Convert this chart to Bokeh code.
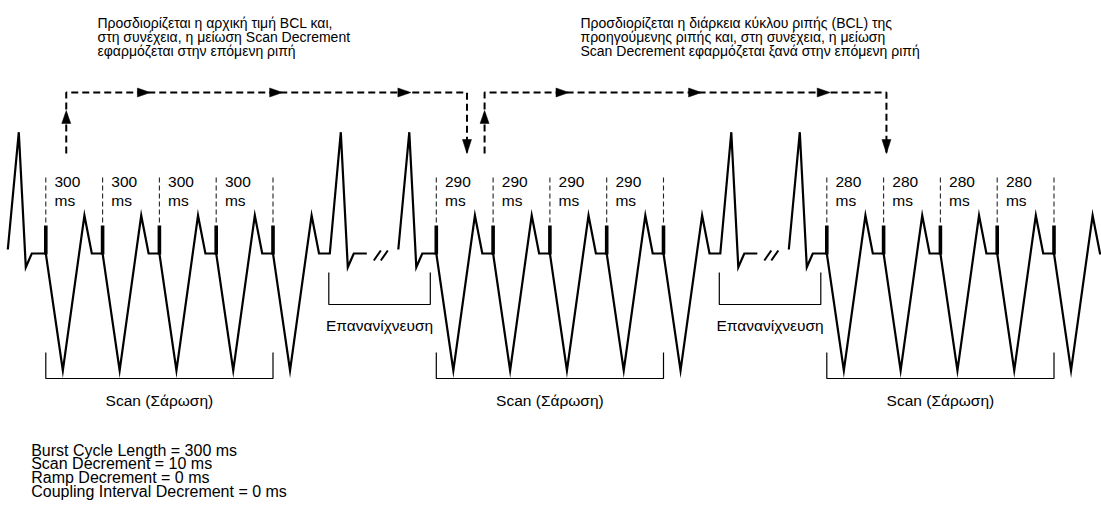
from bokeh.plotting import figure
from bokeh.models import Range1d
from bokeh.embed import file_html
from bokeh.resources import INLINE
from bokeh.core.properties import value

# ---------------- data ----------------
scan_bcl_ms = [300, 290, 280]          # burst cycle length of each scan
stimuli_per_scan = 5                    # pacing stimuli in each burst
interval_unit = "ms"
scan_label = "Scan (Σάρωση)"
retrigger_label = "Επανανίχνευση"
note_left = ["Προσδιορίζεται η αρχική τιμή BCL και,",
             "στη συνέχεια, η μείωση Scan Decrement",
             "εφαρμόζεται στην επόμενη ριπή"]
note_right = ["Προσδιορίζεται η διάρκεια κύκλου ριπής (BCL) της",
              "προηγούμενης ριπής και, στη συνέχεια, η μείωση",
              "Scan Decrement εφαρμόζεται ξανά στην επόμενη ριπή"]
param_names = ["Burst Cycle Length", "Scan Decrement", "Ramp Decrement",
               "Coupling Interval Decrement"]
param_values_ms = [300, 10, 0, 0]

# ---------------- layout (diagram units = screen px) ----------------
W, H = 1101, 512
S_FIRST = 45.3      # first stimulus of the first scan
P = 56.8            # drawn width of one cycle
GAP = 106.5         # drawn width of the redetection pause
BASE, SPIKE_TOP, V_BOT, SMALL_PK, BIG_PK, DIP = 253, 225, 370, 215, 131.7, 266.7
FONT = value("Liberation Sans")
INK = "#000000"

p = figure(width=W, height=H, x_range=Range1d(0, W), y_range=Range1d(H, 0),
           output_backend="svg", toolbar_location=None, min_border=0,
           x_axis_location=None, y_axis_location=None)
p.grid.visible = False
p.outline_line_color = None
p.background_fill_color = "white"
p.border_fill_color = "white"

n_scans = len(scan_bcl_ms)
scan_starts = [S_FIRST + i * (stimuli_per_scan * P + GAP) for i in range(n_scans)]


def sinus(r, y0=BASE):
    return [(r, y0), (r + 11, BIG_PK), (r + 18, DIP), (r + 24, BASE)]


wave_xs, wave_ys = [], []
spk_x = []
brk_x0, brk_x1 = [], []
for i, S in enumerate(scan_starts):
    pts = sinus(S - 38, 249)
    for k in range(stimuli_per_scan):
        s = S + k * P
        spk_x.append(s)
        pts += [(s, BASE), (s + 0.30 * P, V_BOT), (s + 0.68 * P, SMALL_PK), (s + 0.81 * P, BASE)]
    R = S + stimuli_per_scan * P
    pts += sinus(R) + [(R + 37, BASE)]
    wave_xs.append([q[0] for q in pts])
    wave_ys.append([q[1] for q in pts])
    if i < n_scans - 1:
        for d in (44, 51):
            brk_x0.append(R + d)
            brk_x1.append(R + d + 7)

p.multi_line(wave_xs, wave_ys, line_color=INK, line_width=2.2, line_join="miter")
# pacing spikes
p.segment(x0=spk_x, y0=[SPIKE_TOP] * len(spk_x), x1=spk_x, y1=[BASE + 1] * len(spk_x),
          line_color=INK, line_width=3.6, line_cap="butt")
# interval guide lines
p.segment(x0=spk_x, y0=[177] * len(spk_x), x1=spk_x, y1=[SPIKE_TOP] * len(spk_x),
          line_color="#222222", line_width=1.1, line_dash="5 3")
# break marks
p.segment(x0=brk_x0, y0=[260] * len(brk_x0), x1=brk_x1, y1=[250] * len(brk_x0),
          line_color=INK, line_width=2)

# interval labels
lx, ly, lt = [], [], []
for i, S in enumerate(scan_starts):
    for k in range(stimuli_per_scan - 1):
        s = S + k * P
        lx += [s + 8.7, s + 8.7]
        ly += [181.7, 200]
        lt += [str(scan_bcl_ms[i]), interval_unit]
p.text(x=lx, y=ly, text=lt, text_font=FONT, text_font_size="15.5px",
       text_baseline="alphabetic", text_color=INK)

# scan brackets
bxs, bys, sx, st = [], [], [], []
for S in scan_starts:
    L, Rr = S, S + (stimuli_per_scan - 1) * P
    bxs.append([L, L, Rr, Rr]); bys.append([352, 378, 378, 352])
    sx.append((L + Rr) / 2); st.append(scan_label)
# redetection brackets
rx = []
for i in range(n_scans - 1):
    R = scan_starts[i] + stimuli_per_scan * P
    L, Rr = R - 1, scan_starts[i + 1] - 6
    bxs.append([L, L, Rr, Rr]); bys.append([272, 304, 304, 272])
    rx.append((L + Rr) / 2)
p.multi_line(bxs, bys, line_color=INK, line_width=1.2)
p.text(x=sx, y=[400] * len(sx), text=st, text_font=FONT, text_font_size="15.5px",
       text_align="center", text_baseline="alphabetic", text_color=INK)
p.text(x=rx, y=[325] * len(rx), text=[retrigger_label] * len(rx), text_font=FONT,
       text_font_size="15.5px", text_align="center", text_baseline="alphabetic", text_color=INK)

# top dashed arrows
Y_TOP, Y_LOW = 92, 153
arrow_paths = [(scan_starts[0] + 0.36 * P, scan_starts[1] + 0.54 * P),
               (scan_starts[1] + 0.85 * P, scan_starts[2] + 1.05 * P)]
axs, ays, hx, hy = [], [], [], []
for x0, x1 in arrow_paths:
    axs.append([x0, x0, x1, x1]); ays.append([Y_LOW, Y_TOP, Y_TOP, Y_LOW - 1])
    hx.append([x0, x0 - 4.5, x0 + 4.5]); hy.append([110, 123, 123])
    hx.append([x1, x1 - 4.5, x1 + 4.5]); hy.append([Y_LOW, Y_LOW - 14, Y_LOW - 14])
    for f in (0.21, 0.54, 0.86):
        tx = x0 + f * (x1 - x0)
        hx.append([tx, tx - 13, tx - 13]); hy.append([Y_TOP, Y_TOP - 4.5, Y_TOP + 4.5])
p.multi_line(axs, ays, line_color=INK, line_width=2, line_dash="7 4")
p.patches(hx, hy, fill_color=INK, line_color=INK, line_width=0.5)

# notes
p.text(x=[97] * 3, y=[22, 36, 50], text=note_left, text_font=FONT, text_font_size="14px",
       text_baseline="alphabetic", text_color=INK)
p.text(x=[580] * 3, y=[22, 36, 50], text=note_right, text_font=FONT, text_font_size="14px",
       text_baseline="alphabetic", text_color=INK)
params = [f"{n} = {v} ms" for n, v in zip(param_names, param_values_ms)]
p.text(x=[30.7] * 4, y=[449.5, 463.3, 477.1, 491], text=params, text_font=FONT,
       text_font_size="16px", text_baseline="alphabetic", text_color=INK)

open("out.html", "w").write(file_html(p, INLINE))
